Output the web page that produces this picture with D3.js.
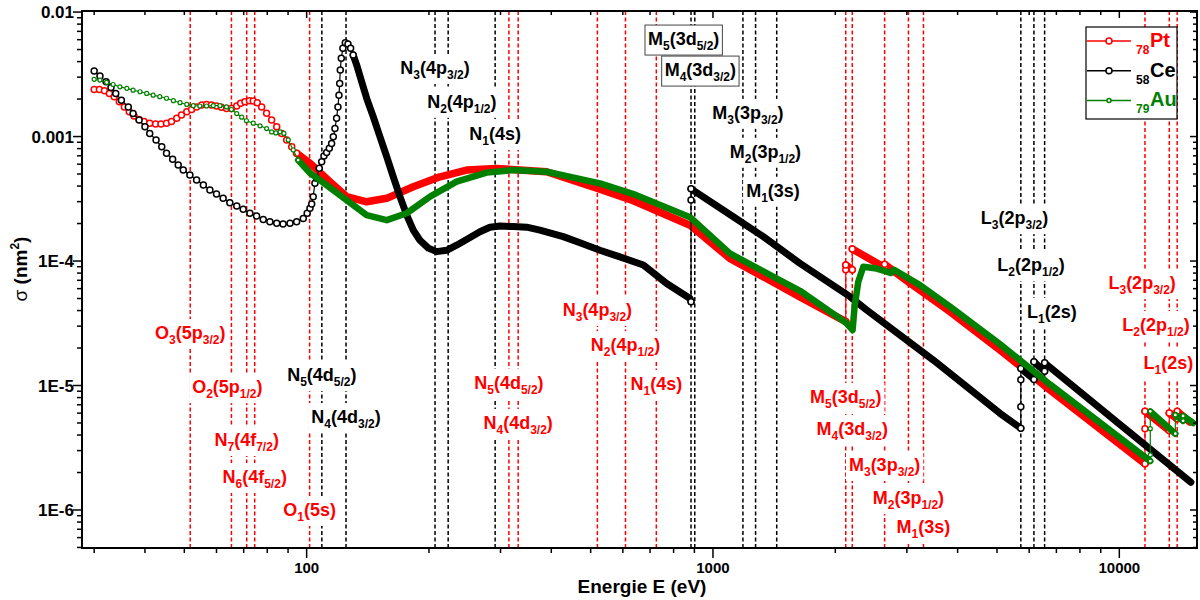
<!DOCTYPE html>
<html>
<head>
<meta charset="utf-8">
<script src="https://cdn.jsdelivr.net/npm/d3@7/dist/d3.min.js"></script>
<style>
  body { margin: 0; background: #fff; }
  text { font-family: Arial, "Liberation Sans", sans-serif; font-weight: bold; }
</style>
</head>
<body>
<svg id="chart" width="1200" height="600"></svg>
<script>
// ***** DATA (energy in eV, cross section in nm^2) *****

// Pt (red)
var ptData = [
  [30.0,2.39e-3],[30.9,2.39e-3],[31.8,2.33e-3],[32.7,2.22e-3],[33.6,2.09e-3],[34.6,1.90e-3],[35.6,1.73e-3],
  [36.6,1.58e-3],[37.6,1.46e-3],[38.7,1.37e-3],[39.8,1.32e-3],[41.1,1.28e-3],[42.5,1.26e-3],[43.8,1.26e-3],
  [45.2,1.28e-3],[46.5,1.32e-3],[47.9,1.40e-3],[49.2,1.49e-3],[50.7,1.58e-3],[52.1,1.65e-3],[53.6,1.73e-3],
  [55.2,1.79e-3],[56.7,1.81e-3],[58.3,1.79e-3],[60.0,1.76e-3],[61.7,1.72e-3],[63.5,1.68e-3],[65.3,1.68e-3],
  [67.3,1.76e-3],[68.8,1.85e-3],[70.5,1.90e-3],[72.3,1.94e-3],[73.9,1.93e-3],[75.6,1.87e-3],[77.5,1.73e-3],
  [79.7,1.54e-3],[82.0,1.36e-3],[84.4,1.20e-3],[86.8,1.06e-3],[89.3,9.38e-4],[91.9,8.28e-4],[94.5,7.33e-4],
  [101.9,6.09e-4],[114.1,4.34e-4],[125.4,3.29e-4],[140.5,2.99e-4],[157.4,3.19e-4],[183,3.95e-4],
  [212.9,4.75e-4],[247.6,5.38e-4],[293.6,5.55e-4],[389.6,5.21e-4],[517.6,3.84e-4],[637,3.05e-4],
  [878,1.94e-4],[1100,1.05e-4],[1637,5.15e-5],[2122,3.26e-5],
  [2122,8.5e-5],[2122,9.3e-5],[2202,8.5e-5],[2202,1.25e-4],[2625,9.0e-5],[2645,9.0e-5],[2645,9.4e-5],
  [3027,6.8e-5],[3832,3.92e-5],[5084,1.93e-5],[6754,9.2e-6],[11564,2.35e-6],
  [11564,4.5e-6],[11564,6.2e-6],[13273,4.35e-6],[13273,6.0e-6],[13880,5.4e-6],[13880,6.2e-6],[14900,5.1e-6]
];

// Ce (black)
var ceData = [
  [30.0,3.36e-3],[31.0,3.06e-3],[32.1,2.75e-3],[33.0,2.48e-3],[33.9,2.22e-3],[35.0,1.96e-3],[36.4,1.73e-3],
  [37.4,1.53e-3],[38.7,1.36e-3],[40.0,1.20e-3],[41.1,1.06e-3],[42.6,9.38e-4],[44.0,8.28e-4],[45.2,7.33e-4],
  [46.8,6.56e-4],[48.3,5.9e-4],[49.7,5.38e-4],[51.6,4.91e-4],[53.6,4.48e-4],[55.7,4.08e-4],[57.8,3.72e-4],
  [60.0,3.45e-4],[62.3,3.19e-4],[64.7,2.94e-4],[67.3,2.77e-4],[69.8,2.60e-4],[72.5,2.42e-4],[75.3,2.30e-4],
  [78.2,2.16e-4],[81.2,2.07e-4],[84.4,2.01e-4],[87.5,1.98e-4],[91.0,2.01e-4],[94.5,2.07e-4],[98.1,2.20e-4],
  [100.3,2.42e-4],[101.9,2.65e-4],[102.9,2.87e-4],[103.8,3.29e-4],[104.8,4.21e-4],[105.8,4.62e-4],
  [107.4,5.56e-4],[108.9,6.28e-4],[110.3,6.97e-4],[112.0,7.46e-4],[113.7,8.04e-4],[115.2,8.81e-4],
  [116.3,9.96e-4],[117.4,1.16e-3],[118.5,1.40e-3],[119.4,1.73e-3],[120.1,2.15e-3],[120.6,2.67e-3],
  [121.0,3.42e-3],[121.7,4.25e-3],[122.8,5.11e-3],[124.5,5.66e-3],[126.4,5.53e-3],[128.3,5.11e-3],
  [130.2,4.52e-3],[132.8,3.75e-3],[136.6,2.75e-3],[141.0,1.96e-3],[145.9,1.44e-3],[151.5,9.96e-4],
  [157.4,6.89e-4],[163.4,4.75e-4],[169.7,3.29e-4],[176.3,2.34e-4],[183.0,1.77e-4],[190.0,1.47e-4],
  [199.3,1.27e-4],[208.9,1.19e-4],[221.1,1.22e-4],[233.9,1.34e-4],[247.6,1.49e-4],[267.0,1.72e-4],
  [282.5,1.87e-4],[299.1,1.91e-4],[322.5,1.89e-4],[347.9,1.87e-4],[375,1.77e-4],[428,1.57e-4],
  [470.6,1.40e-4],[527,1.22e-4],[590,1.08e-4],[674,9.29e-5],[769,6.6e-5],[878,5.0e-5],[883,4.71e-5],
  [883,3.09e-4],[883,3.8e-4],[1122,2.27e-4],[1330,1.57e-4],[1637,9.58e-5],[2174,5.17e-5],[2389,4.04e-5],
  [3485,1.6e-5],[5084,5.98e-6],[5723,4.53e-6],
  [5723,6.76e-6],[5723,1.11e-5],[5723,1.37e-5],[6164,1.12e-5],
  [6164,1.55e-5],[6549,1.3e-5],
  [6549,1.52e-5],[10000,4.9e-6],[15000,1.67e-6]
];

// Au (green)
var auData = [
  [30.0,2.88e-3],[31.0,2.84e-3],[32.2,2.72e-3],[33.4,2.62e-3],[34.7,2.51e-3],[36.1,2.44e-3],[37.4,2.36e-3],
  [38.9,2.29e-3],[40.4,2.22e-3],[41.9,2.15e-3],[43.5,2.09e-3],[45.2,2.03e-3],[47.0,1.94e-3],[48.8,1.87e-3],
  [50.7,1.81e-3],[52.6,1.77e-3],[54.6,1.76e-3],[56.7,1.76e-3],[58.9,1.77e-3],[61.2,1.77e-3],[63.5,1.73e-3],
  [65.3,1.65e-3],[67.3,1.53e-3],[69.2,1.43e-3],[71.1,1.34e-3],[73.9,1.28e-3],[76.8,1.22e-3],[79.7,1.16e-3],
  [82.0,1.09e-3],[84.0,1.07e-3],[86.0,1.09e-3],[87.9,1.06e-3],[90.1,9.38e-4],[92.7,7.8e-4],[95.3,6.47e-4],
  [101.9,5.09e-4],[107.8,4.47e-4],[125.4,3.09e-4],[140.5,2.34e-4],[157.4,2.13e-4],[176.3,2.42e-4],
  [201.2,3.29e-4],[233.9,4.34e-4],[277.3,5.13e-4],[322.5,5.38e-4],[389.6,5.21e-4],[527,4.21e-4],
  [637,3.45e-4],[878,2.25e-4],[1100,1.15e-4],[1637,5.77e-5],[2124,3.2e-5],[2206,2.79e-5],[2231,4.3e-5],
  [2278,6.82e-5],[2344,9.0e-5],[2528,8.7e-5],[2680,8.2e-5],[2740,8.0e-5],[2790,8.5e-5],[3232,6.4e-5],
  [3832,4.3e-5],[5084,2.15e-5],[6754,1.02e-5],[11919,2.47e-6],
  [11919,2.77e-6],[11919,4.5e-6],[11919,6.2e-6],[13734,4.1e-6],[13734,5.8e-6],[14353,5.2e-6],
  [14353,5.7e-6],[15200,5.0e-6]
];

// absorption edges (eV)
var ptEdges = [51.7, 65.3, 71.2, 74.5, 101.7, 314.6, 331.6, 519.4, 609.1, 725.4,
               2122, 2202, 2645, 3027, 3296, 11564, 13273, 13880];
var ceEdges = [109, 125, 207, 223, 291, 883, 902, 1185, 1273, 1435, 5723, 6164, 6549];

// edge labels: [normal, sub, normal, sub, normal], anchored at [energy, sigma]
var ptLabels = [
  { parts: ["O","3","(5p","3/2",")"], at: [51.7, 2.64e-5] },
  { parts: ["O","2","(5p","1/2",")"], at: [63.8, 9.7e-6] },
  { parts: ["N","7","(4f","7/2",")"], at: [71.2, 3.65e-6] },
  { parts: ["N","6","(4f","5/2",")"], at: [74.5, 1.84e-6] },
  { parts: ["O","1","(5s)"], at: [101.7, 1.0e-6] },
  { parts: ["N","5","(4d","5/2",")"], at: [314.6, 1.05e-5] },
  { parts: ["N","4","(4d","3/2",")"], at: [331.6, 5.0e-6] },
  { parts: ["N","3","(4p","3/2",")"], at: [519.4, 4.05e-5] },
  { parts: ["N","2","(4p","1/2",")"], at: [609.1, 2.11e-5] },
  { parts: ["N","1","(4s)"], at: [725.4, 1.03e-5] },
  { parts: ["M","5","(3d","5/2",")"], at: [2122, 8.1e-6] },
  { parts: ["M","4","(3d","3/2",")"], at: [2202, 4.48e-6] },
  { parts: ["M","3","(3p","3/2",")"], at: [2645, 2.3e-6] },
  { parts: ["M","2","(3p","1/2",")"], at: [3027, 1.25e-6] },
  { parts: ["M","1","(3s)"], at: [3296, 7.3e-7] },
  { parts: ["L","3","(2p","3/2",")"], at: [11380, 6.65e-5] },
  { parts: ["L","2","(2p","1/2",")"], at: [12310, 3.06e-5] },
  { parts: ["L","1","(2s)"], at: [13210, 1.52e-5] }
];
var ceLabels = [
  { parts: ["N","5","(4d","5/2",")"], at: [109, 1.21e-5] },
  { parts: ["N","4","(4d","3/2",")"], at: [125, 5.58e-6] },
  { parts: ["N","3","(4p","3/2",")"], at: [207, 3.55e-3] },
  { parts: ["N","2","(4p","1/2",")"], at: [241, 1.90e-3] },
  { parts: ["N","1","(4s)"], at: [291, 1.05e-3] },
  { parts: ["M","5","(3d","5/2",")"], at: [847, 6.07e-3], boxed: true },
  { parts: ["M","4","(3d","3/2",")"], at: [931, 3.42e-3], boxed: true },
  { parts: ["M","3","(3p","3/2",")"], at: [1219, 1.55e-3] },
  { parts: ["M","2","(3p","1/2",")"], at: [1346, 7.55e-4] },
  { parts: ["M","1","(3s)"], at: [1405, 3.67e-4] },
  { parts: ["L","3","(2p","3/2",")"], at: [5521, 2.21e-4] },
  { parts: ["L","2","(2p","1/2",")"], at: [6063, 9.3e-5] },
  { parts: ["L","1","(2s)"], at: [6823, 3.92e-5] }
];

var legendItems = [
  { z: "78", name: "Pt", color: "#ff0000", r: 3 },
  { z: "58", name: "Ce", color: "#000000", r: 3 },
  { z: "79", name: "Au", color: "#008000", r: 2 }
];

// ***** CHART *****
var pL = 82, pR = 1197, pT = 11, pB = 548;

var svg = d3.select("#chart");

var x = d3.scaleLog().domain([28, 15530]).range([pL, pR]);
var y = d3.scaleLog().domain([4.95e-7, 0.0102]).range([pB, pT]);

svg.append("defs").append("clipPath").attr("id", "plotClip")
  .append("rect").attr("x", pL).attr("y", pT)
  .attr("width", pR - pL).attr("height", pB - pT);

function isMajor(v) {
  var l = Math.log10(v);
  return Math.abs(l - Math.round(l)) < 1e-9;
}

// vertical dashed edge lines
var edgeG = svg.append("g").attr("clip-path", "url(#plotClip)");
function edgeLines(edges, color) {
  edgeG.selectAll(null)
    .data(edges)
    .enter()
    .append("line")
    .attr("x1", function(d) { return x(d); })
    .attr("x2", function(d) { return x(d); })
    .attr("y1", pT)
    .attr("y2", pB)
    .attr("stroke", color)
    .attr("stroke-width", 1.5)
    .attr("stroke-dasharray", "4,2.5");
}
edgeLines(ptEdges, "#ff0000");
edgeLines(ceEdges, "#000000");

// edge labels with white background
var labelG = svg.append("g");
function edgeLabels(labels, color) {
  labels.forEach(function(lb) {
    var g = labelG.append("g");
    var t = g.append("text")
      .attr("x", x(lb.at[0]))
      .attr("y", y(lb.at[1]) + 6)
      .attr("text-anchor", "middle")
      .attr("fill", color);
    lb.parts.forEach(function(p, i) {
      var sub = i % 2 === 1;
      t.append("tspan")
        .attr("font-size", sub ? 12 : 18)
        .attr("dy", i === 0 ? 0 : (sub ? 5 : -5))
        .text(p);
    });
    var bb = t.node().getBBox();
    g.insert("rect", "text")
      .attr("x", bb.x - 3)
      .attr("y", bb.y - 4)
      .attr("width", bb.width + 6)
      .attr("height", bb.height + 6)
      .attr("fill", "#fff")
      .attr("stroke", lb.boxed ? "#444" : "none")
      .attr("stroke-width", 1);
  });
}
edgeLabels(ptLabels, "#ff0000");
edgeLabels(ceLabels, "#000000");

// curves
var plot = svg.append("g").attr("clip-path", "url(#plotClip)");
var line = d3.line()
  .x(function(d) { return x(d[0]); })
  .y(function(d) { return y(d[1]); });

function drawSeries(data, color, opt) {
  var g = plot.append("g");

  // thin connecting line
  g.append("path")
    .attr("d", line(data))
    .attr("fill", "none")
    .attr("stroke", color)
    .attr("stroke-width", 1.2);

  // dense part of the series shows as a thick band, broken at the edge jumps
  var runs = [], run = [];
  data.forEach(function(d) {
    if (d[0] < opt.bandFrom) return;
    if (run.length && run[run.length - 1][0] === d[0]) {
      runs.push(run);
      run = [];
    }
    run.push(d);
  });
  runs.push(run);
  g.selectAll(".band")
    .data(runs.filter(function(r) { return r.length > 1; }))
    .enter()
    .append("path")
    .attr("class", "band")
    .attr("d", line)
    .attr("fill", "none")
    .attr("stroke", color)
    .attr("stroke-width", opt.band)
    .attr("stroke-linejoin", "round")
    .attr("stroke-linecap", "round");

  // open markers: sparse part + points on the edge jumps
  var marks = data.filter(function(d, i) {
    var prev = data[i - 1], next = data[i + 1];
    var jump = (prev && prev[0] === d[0]) || (next && next[0] === d[0]);
    return d[0] < opt.markUntil || jump;
  });
  g.selectAll("circle")
    .data(marks)
    .enter()
    .append("circle")
    .attr("cx", function(d) { return x(d[0]); })
    .attr("cy", function(d) { return y(d[1]); })
    .attr("r", opt.r)
    .attr("fill", "#fff")
    .attr("stroke", color)
    .attr("stroke-width", opt.sw);
}

drawSeries(ptData, "#ff0000", { bandFrom: 94.5, markUntil: 100, band: 7.5, r: 3, sw: 1.5 });
drawSeries(ceData, "#000000", { bandFrom: 130.2, markUntil: 131, band: 7, r: 3, sw: 1.5 });
drawSeries(auData, "#008000", { bandFrom: 95.3, markUntil: 100, band: 6.5, r: 2, sw: 1.2 });

// ***** AXES *****
var axisG = svg.append("g");
axisG.append("rect")
  .attr("x", pL).attr("y", pT)
  .attr("width", pR - pL).attr("height", pB - pT)
  .attr("fill", "none").attr("stroke", "#000").attr("stroke-width", 2);

var xt = x.ticks();
var yt = y.ticks();

axisG.selectAll(".xb").data(xt).enter().append("line")
  .attr("x1", function(d) { return x(d); }).attr("x2", function(d) { return x(d); })
  .attr("y1", pB).attr("y2", function(d) { return pB + (isMajor(d) ? 10 : 5); })
  .attr("stroke", "#000").attr("stroke-width", 1.5);
axisG.selectAll(".xt").data(xt).enter().append("line")
  .attr("x1", function(d) { return x(d); }).attr("x2", function(d) { return x(d); })
  .attr("y1", pT).attr("y2", function(d) { return pT + (isMajor(d) ? 7 : 4); })
  .attr("stroke", "#000").attr("stroke-width", 1.5);
axisG.selectAll(".yl").data(yt).enter().append("line")
  .attr("y1", function(d) { return y(d); }).attr("y2", function(d) { return y(d); })
  .attr("x1", pL).attr("x2", function(d) { return pL - (isMajor(d) ? 9 : 5); })
  .attr("stroke", "#000").attr("stroke-width", 1.5);
axisG.selectAll(".yr").data(yt).enter().append("line")
  .attr("y1", function(d) { return y(d); }).attr("y2", function(d) { return y(d); })
  .attr("x1", pR).attr("x2", function(d) { return pR - (isMajor(d) ? 7 : 4); })
  .attr("stroke", "#000").attr("stroke-width", 1.5);

axisG.selectAll(".xlab").data(xt.filter(isMajor)).enter().append("text")
  .attr("x", function(d) { return x(d); })
  .attr("y", pB + 25)
  .attr("text-anchor", "middle")
  .attr("font-size", 15)
  .text(function(d) { return d3.format("d")(d); });

axisG.selectAll(".ylab").data(yt.filter(isMajor)).enter().append("text")
  .attr("x", pL - 8)
  .attr("y", function(d) { return y(d) + 6; })
  .attr("text-anchor", "end")
  .attr("font-size", 17)
  .text(function(d) {
    var n = Math.round(Math.log10(d));
    if (n === -2) return "0.01";
    if (n === -3) return "0.001";
    return "1E" + n;
  });

svg.append("text")
  .attr("x", 642).attr("y", 593)
  .attr("text-anchor", "middle")
  .attr("font-size", 19)
  .text("Energie E (eV)");

var yTitle = svg.append("text")
  .attr("transform", "translate(27,269) rotate(-90)")
  .attr("text-anchor", "middle")
  .attr("font-size", 19);
yTitle.append("tspan").attr("font-weight", "normal").text("σ");
yTitle.append("tspan").text(" (nm");
yTitle.append("tspan").attr("font-size", 12).attr("dy", -8).text("2");
yTitle.append("tspan").attr("dy", 8).text(")");

// ***** LEGEND *****
var legend = svg.append("g");
legend.append("rect")
  .attr("x", 1086).attr("y", 27).attr("width", 91).attr("height", 92)
  .attr("fill", "#fff").attr("stroke", "#000").attr("stroke-width", 1.2);

var row = legend.selectAll(".row")
  .data(legendItems)
  .enter()
  .append("g")
  .attr("transform", function(d, i) { return "translate(0," + (41 + i * 29.7) + ")"; });
row.append("line")
  .attr("x1", 1087).attr("x2", 1131).attr("y1", 0).attr("y2", 0)
  .attr("stroke", function(d) { return d.color; }).attr("stroke-width", 1.5);
row.append("circle")
  .attr("cx", 1109).attr("cy", 0)
  .attr("r", function(d) { return d.r; })
  .attr("fill", "#fff")
  .attr("stroke", function(d) { return d.color; }).attr("stroke-width", 1.5);
row.append("text")
  .attr("x", 1136).attr("y", 13)
  .attr("font-size", 12)
  .attr("fill", function(d) { return d.color; })
  .text(function(d) { return d.z; });
row.append("text")
  .attr("x", 1150).attr("y", 6)
  .attr("font-size", 20)
  .attr("fill", function(d) { return d.color; })
  .text(function(d) { return d.name; });
</script>
</body>
</html>
